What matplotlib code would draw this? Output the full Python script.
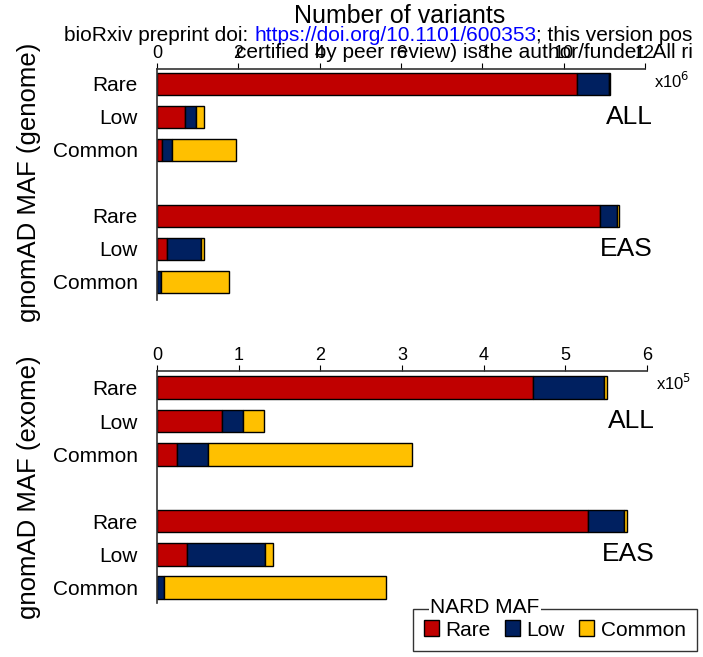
import numpy as np
import matplotlib.pyplot as plt
from matplotlib.patches import Patch

plt.rcParams['font.family'] = ['Liberation Sans', 'DejaVu Sans']

rows = ['Rare', 'Low', 'Common']
groups = ['ALL', 'EAS']
nard = ['Rare', 'Low', 'Common']
colors = ['#C00000', '#002060', '#FFC000']

# gnomAD MAF bin (rows) split by NARD MAF bin (columns)
# genome counts in units of 1e6
genome_all = [[10.32, 0.79, 0.03],
              [0.70, 0.26, 0.20],
              [0.115, 0.26, 1.565]]
genome_eas = [[10.89, 0.43, 0.03],
              [0.24, 0.84, 0.075],
              [0.005, 0.09, 1.68]]
# exome counts in units of 1e5
exome_all = [[4.60, 0.87, 0.04],
             [0.80, 0.25, 0.265],
             [0.24, 0.38, 2.505]]
exome_eas = [[5.275, 0.445, 0.03],
             [0.37, 0.947, 0.10],
             [0.005, 0.085, 2.71]]

genome_ticks = [0, 2, 4, 6, 8, 10, 12]
exome_ticks = [0, 1, 2, 3, 4, 5, 6]

W, H = 703, 657
fig = plt.figure(figsize=(W / 100, H / 100), dpi=100)
ax1 = fig.add_axes([157/W, 357/H, 488/W, 231/H])
ax2 = fig.add_axes([157/W, 54/H, 490/W, 232.3/H])


def panel(ax, d_all, d_eas, ticks, ylim, power):
    pos = np.array([0, 1, 2, 4, 5, 6])
    data = np.array(d_all + d_eas)
    left = np.zeros(len(pos))
    for j in range(3):
        ax.barh(pos, data[:, j], left=left, height=0.68, color=colors[j],
                edgecolor='black', linewidth=1)
        left += data[:, j]
    ax.set_xlim(ticks[0], ticks[-1])
    ax.set_ylim(*ylim)
    ax.xaxis.tick_top()
    ax.set_xticks(ticks)
    ax.tick_params(axis='x', direction='out', length=4, labelsize=13, pad=1)
    ax.set_yticks(pos)
    ax.set_yticklabels(rows * 2)
    ax.tick_params(axis='y', length=0, labelsize=15, pad=14)
    for s in ['bottom', 'right']:
        ax.spines[s].set_visible(False)
    for s in ['top', 'left']:
        ax.spines[s].set_linewidth(1.2)
        ax.spines[s].set_color('#333333')
    for g, y in zip(groups, [1, 5]):
        ax.text(1.016, y, g, transform=ax.get_yaxis_transform(),
                ha='right', va='center', fontsize=19)
    ax.text(1.018, 0.99, 'x10$^{%d}$' % power, transform=ax.transAxes,
            ha='left', va='top', fontsize=12)


panel(ax1, genome_all, genome_eas, genome_ticks, (6.55, -0.45), 6)
panel(ax2, exome_all, exome_eas, exome_ticks, (6.46, -0.51), 5)

fig.text(29/W, 1 - 182/H, 'gnomAD MAF (genome)', rotation=90,
         ha='center', va='center', fontsize=18.5)
fig.text(29/W, 1 - 487/H, 'gnomAD MAF (exome)', rotation=90,
         ha='center', va='center', fontsize=18.5)

fig.text(400/W, 1 - 23/H, 'Number of variants', ha='center',
         va='baseline', fontsize=18)

# preprint banner across the top
t1 = fig.text(64/W, 1 - 41/H, 'bioRxiv preprint doi: ', ha='left',
              va='baseline', fontsize=15)
t2 = ax1.annotate('https://doi.org/10.1101/600353', xy=(1, 0), xycoords=t1,
                  va='bottom', ha='left', fontsize=15, color='#0000FF',
                  annotation_clip=False)
ax1.annotate('; this version pos', xy=(1, 0), xycoords=t2, va='bottom',
             ha='left', fontsize=15, annotation_clip=False)
fig.text(236/W, 1 - 58/H, 'certified by peer review) is the author/funder. All ri',
         ha='left', va='baseline', fontsize=15)

handles = [Patch(facecolor=c, edgecolor='black', linewidth=1) for c in colors]
leg = fig.legend(handles, nard, ncol=3, loc='lower right',
                 bbox_to_anchor=(697/W, 6/H), fontsize=15,
                 frameon=True, fancybox=False, handlelength=0.72,
                 handleheight=0.8, handletextpad=0.3, columnspacing=0.7,
                 borderpad=0.55, borderaxespad=0)
leg.get_frame().set_edgecolor('black')
leg.get_frame().set_linewidth(1)
fig.text(430/W, 1 - 613/H, 'NARD MAF', ha='left', va='baseline',
         fontsize=15, zorder=10,
         bbox=dict(facecolor='white', edgecolor='none', pad=1))

fig.savefig('out.png', dpi=100)
